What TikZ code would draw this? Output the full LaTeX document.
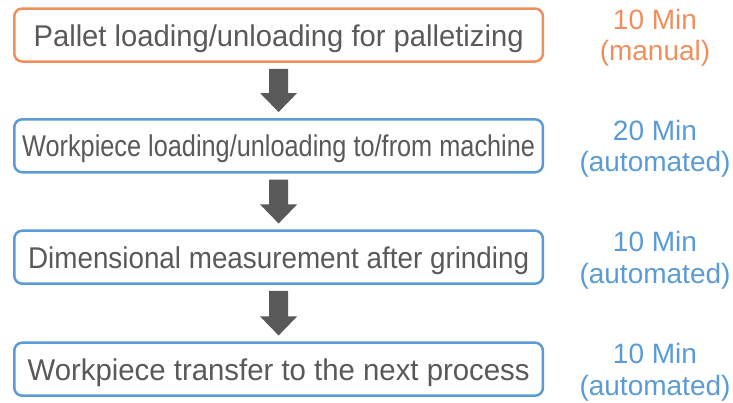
\documentclass[tikz,border=0pt]{standalone}
\usepackage{fontspec}
\setmainfont{Liberation Sans}
\usepackage{graphicx}
\definecolor{txtgray}{HTML}{595959}
\definecolor{orangec}{HTML}{F08F5C}
\definecolor{bluec}{HTML}{5B9BD5}
\definecolor{arrowc}{HTML}{595959}
\newcommand{\fitto}[2]{\resizebox{#1}{\height}{#2}}
\tikzset{
  procbox/.style={draw, rounded corners=8pt, line width=2.5pt, minimum width=528.7pt,
    minimum height=53pt, inner sep=0pt, text height=22pt, text depth=0pt,
    text=txtgray, font=\fontsize{30}{32}\selectfont, anchor=center},
  timelabel/.style={align=center, inner sep=0pt, anchor=north,
    font=\fontsize{28}{31.5}\selectfont},
  blockarrow/.style={fill=arrowc, draw=none}
}
\begin{document}
\begin{tikzpicture}[x=1pt,y=1pt]
\useasboundingbox (0,0) rectangle (733,-402);
\node[procbox, draw=orangec] (b1) at (278.6,-35) {\fitto{490pt}{Pallet loading/unloading for palletizing}};
\node[procbox, draw=bluec] (b2) at (278.6,-145.8) {\fitto{513pt}{Workpiece loading/unloading to/from machine}};
\node[procbox, draw=bluec] (b3) at (278.6,-257.2) {\fitto{501pt}{Dimensional measurement after grinding}};
\node[procbox, draw=bluec] (b4) at (278.6,-369.2) {\fitto{502pt}{Workpiece transfer to the next process}};
\node[timelabel, text=orangec] (t1) at ([xshift=376.4pt,yshift=26pt]b1.center) {10 Min\\(manual)};
\node[timelabel, text=bluec] (t2) at ([xshift=376.4pt,yshift=26pt]b2.center) {20 Min\\(automated)};
\node[timelabel, text=bluec] (t3) at ([xshift=376.4pt,yshift=26pt]b3.center) {10 Min\\(automated)};
\node[timelabel, text=bluec] (t4) at ([xshift=376.4pt,yshift=26pt]b4.center) {10 Min\\(automated)};
\foreach \a/\b in {b1/b2,b2/b3,b3/b4}{
  \fill[blockarrow] ([xshift=-9.5pt,yshift=-6pt]\a.south) -- ([xshift=9.5pt,yshift=-6pt]\a.south)
    -- ([xshift=9.5pt,yshift=25pt]\b.north) -- ([xshift=18.5pt,yshift=25pt]\b.north)
    -- ([yshift=6pt]\b.north) -- ([xshift=-18.5pt,yshift=25pt]\b.north)
    -- ([xshift=-9.5pt,yshift=25pt]\b.north) -- cycle;
}
\end{tikzpicture}
\end{document}
